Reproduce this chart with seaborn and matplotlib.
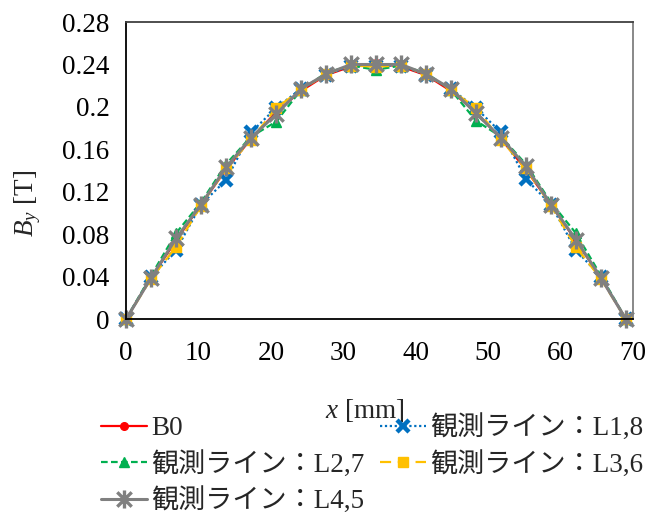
import matplotlib
matplotlib.use("Agg")
import matplotlib.pyplot as plt
import matplotlib.path as mpath
import seaborn as sns

# Position along the observation line [mm]
x_mm = [0, 3.45, 6.9, 10.35, 13.8, 17.25, 20.7, 24.15, 27.6, 31.05, 34.5,
        37.95, 41.4, 44.85, 48.3, 51.75, 55.2, 58.65, 62.1, 65.55, 69.0]

# B_y [T] for each series
by_b0 = [0, 0.039, 0.074, 0.108, 0.141, 0.170, 0.195, 0.215, 0.230, 0.238, 0.241,
         0.238, 0.230, 0.215, 0.195, 0.170, 0.141, 0.108, 0.074, 0.039, 0]
by_l18 = [0, 0.040, 0.065, 0.108, 0.131, 0.176, 0.199, 0.217, 0.230, 0.239, 0.239,
          0.239, 0.230, 0.217, 0.199, 0.176, 0.132, 0.108, 0.065, 0.040, 0]
by_l27 = [0, 0.041, 0.081, 0.110, 0.146, 0.172, 0.186, 0.216, 0.232, 0.239, 0.235,
          0.239, 0.232, 0.216, 0.187, 0.172, 0.146, 0.110, 0.081, 0.041, 0]
by_l36 = [0, 0.038, 0.068, 0.107, 0.142, 0.169, 0.199, 0.216, 0.231, 0.239, 0.238,
          0.239, 0.231, 0.216, 0.199, 0.169, 0.142, 0.107, 0.068, 0.038, 0]
by_l45 = [0, 0.039, 0.076, 0.108, 0.143, 0.171, 0.193, 0.217, 0.231, 0.240, 0.240,
          0.240, 0.231, 0.217, 0.194, 0.171, 0.144, 0.108, 0.075, 0.039, 0]

labels = ["B0", "観測ライン：L1,8", "観測ライン：L2,7", "観測ライン：L3,6", "観測ライン：L4,5"]
x_ticks = [0, 10, 20, 30, 40, 50, 60, 70]
y_ticks = [0, 0.04, 0.08, 0.12, 0.16, 0.2, 0.24, 0.28]
y_ticklabels = ["0", "0.04", "0.08", "0.12", "0.16", "0.2", "0.24", "0.28"]

sns.set_theme(style="white")
plt.rcParams["font.family"] = ["Liberation Serif", "Noto Sans CJK JP"]
plt.rcParams["mathtext.fontset"] = "custom"
plt.rcParams["mathtext.rm"] = "Liberation Serif"
plt.rcParams["mathtext.it"] = "Liberation Serif:italic"

FS = 19.5

# six-armed star marker (x with a vertical bar)
star = mpath.Path(
    [(-1, -1), (1, 1), (-1, 1), (1, -1), (0, -1.25), (0, 1.25)],
    [mpath.Path.MOVETO, mpath.Path.LINETO, mpath.Path.MOVETO,
     mpath.Path.LINETO, mpath.Path.MOVETO, mpath.Path.LINETO],
)

styles = [
    dict(color="#FF0000", marker="o", linestyle="-", markersize=5.5, lw=1.6),
    dict(color="#0070C0", marker="x", linestyle=(0, (1, 1.2)), markersize=8.5, lw=1.6, mew=3.2),
    dict(color="#00B050", marker="^", linestyle=(0, (3, 1.5)), markersize=7.5, lw=1.6),
    dict(color="#FFC000", marker="s", linestyle=(0, (5, 3)), markersize=6.5, lw=1.6),
    dict(color="#808080", marker=star, linestyle="-", markersize=13, lw=2.2, mew=2.4),
]

series = [by_b0, by_l18, by_l27, by_l36, by_l45]

fig = plt.figure(figsize=(6.5, 5.13), dpi=100)
ax = fig.add_axes([0.194, 0.378, 0.78, 0.579])

for lab, vals, st in zip(labels, series, styles):
    sns.lineplot(x=x_mm, y=vals, ax=ax, label=lab, sort=False,
                 color=st["color"], marker=st["marker"], linestyle=st["linestyle"],
                 markersize=st["markersize"], linewidth=st["lw"],
                 markeredgewidth=st.get("mew", 1.0),
                 markeredgecolor=st["color"], markerfacecolor=st["color"],
                 clip_on=False)

ax.set_xlim(0, 70)
ax.set_ylim(0, 0.28)
ax.set_xticks(x_ticks)
ax.set_yticks(y_ticks)
ax.set_yticklabels(y_ticklabels)
ax.tick_params(direction="in", length=5, width=1, labelsize=FS, colors="black",
               pad=12)
ax.tick_params(axis="x", pad=16)

for side in ["left", "bottom"]:
    ax.spines[side].set_color("black")
    ax.spines[side].set_linewidth(1.3)
ax.spines["top"].set_color("#404040")
ax.spines["right"].set_color("#7f7f7f")
for side in ["top", "right"]:
    ax.spines[side].set_linewidth(1.3)

ax.set_xlabel("$x$ [mm]", fontsize=FS, labelpad=22, x=0.47)
ax.set_ylabel("$B_y$ [T]", fontsize=FS, labelpad=14, y=0.39)

# row-wise legend order: B0 | L1,8 / L2,7 | L3,6 / L4,5
handles, labs = ax.get_legend_handles_labels()
order = [0, 2, 4, 1, 3]
ax.legend([handles[i] for i in order], [labs[i] for i in order],
          loc="upper left", bbox_to_anchor=(0.155, 0.192),
          bbox_transform=fig.transFigure, ncol=2, frameon=False,
          fontsize=FS, handlelength=1.7, handletextpad=0.15,
          columnspacing=0.6, labelspacing=0.35, borderpad=0, borderaxespad=0)

fig.savefig("out.png", dpi=100)
